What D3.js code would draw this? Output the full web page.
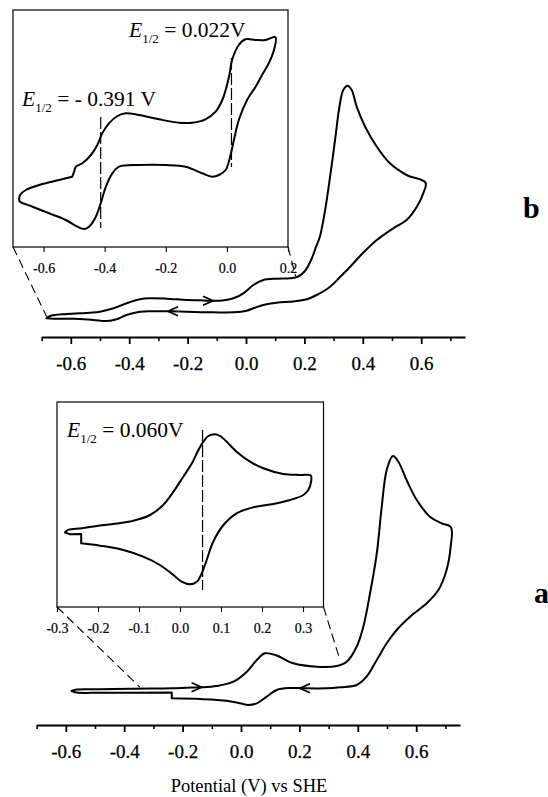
<!DOCTYPE html>
<html>
<head>
<meta charset="utf-8">
<script src="https://cdn.jsdelivr.net/npm/d3@7"></script>
<style>
  html, body { margin: 0; padding: 0; background: #fff; }
  svg { display: block; }
  text { font-family: "Liberation Serif", "Times New Roman", serif; fill: #000; }
</style>
</head>
<body>
<svg id="chart" width="548" height="797"></svg>
<script>
// ---------------- DATA (potential in V vs SHE, current in arbitrary units) ----------------
// Panel b, main CV
const bMainPotential = [-0.683,-0.671,-0.614,-0.534,-0.5,-0.454,-0.409,-0.363,-0.329,-0.272,-0.203,-0.158,-0.123,-0.089,-0.043,-0.009,0.025,0.059,0.105,0.151,0.179,0.202,0.223,0.240,0.253,0.271,0.288,0.305,0.320,0.333,0.348,0.362,0.379,0.408,0.448,0.493,0.550,0.615,
  0.607,0.585,0.550,0.504,0.448,0.397,0.356,0.322,0.288,0.242,0.208,0.162,0.105,0.059,0.025,0.002,-0.043,-0.112,-0.203,-0.260,-0.317,-0.363,-0.409,-0.443,-0.477,-0.523,-0.591,-0.660,-0.683];
const bMainCurrent = [11.7,14,16,17.3,18.3,21.7,26.7,30.7,31.7,31.3,30,29.7,29.3,29.3,31.7,36.7,45,50,51.3,51.7,53.5,59,70,83.3,93.3,120,153.3,190,223.3,240,244.3,240,223.3,203.3,183.3,166.7,155,147.3,
  136.7,123.3,110,101.7,90,76,63,53,43.3,35,30.7,28.5,27.3,25,21.7,19.3,17.7,17.7,18.3,18.7,18.7,18.3,15,10.7,9,10,11.3,11.3,11.7];

// Panel b, inset CV
const bInsetPotential = [-0.680,-0.677,-0.658,-0.614,-0.549,-0.506,-0.500,-0.494,-0.473,-0.445,-0.424,-0.408,-0.386,-0.358,-0.331,-0.288,-0.222,-0.157,-0.113,-0.070,-0.037,-0.015,0.007,0.017,0.039,0.061,0.094,0.126,0.159,
  0.154,0.137,0.115,0.094,0.066,0.039,0.023,0.012,-0.004,-0.026,-0.048,-0.081,-0.135,-0.200,-0.288,-0.353,-0.375,-0.396,-0.413,-0.429,-0.451,-0.467,-0.489,-0.527,-0.582,-0.636,-0.677,-0.680];
const bInsetCurrent = [47,52,57,62,67,70.3,75.3,80.3,83.7,92,102,113.7,123.7,131,133.7,132,127.7,124.3,124.3,127.7,135.3,147,170.3,187,202,207.7,207,207,209.7,
  197,183.7,172,160.3,147,127,107,92,77,72,70.3,73.7,80.3,82,82,80.3,73.7,60.3,43.7,30.3,20.3,18,20.3,27,33.7,40.3,45.3,47];

// Panel a, main CV
const aMainPotential = [-0.580,-0.563,-0.483,-0.369,-0.237,-0.186,-0.140,-0.083,-0.026,0.020,0.054,0.082,0.122,0.179,0.259,0.328,0.362,0.396,0.419,0.442,0.465,0.482,0.499,0.520,0.539,0.567,0.602,0.647,0.687,0.719,
  0.718,0.704,0.676,0.636,0.579,0.533,0.499,0.465,0.430,0.396,0.339,0.293,0.213,0.168,0.122,0.088,0.054,0.025,-0.003,-0.049,-0.140,-0.237,-0.237,-0.369,-0.483,-0.563,-0.580];
const aMainCurrent = [29,30.5,30.7,31.3,31.7,32.3,32.7,34,38.3,48.3,60,66.7,64.5,56.7,53.3,54,58.3,73.3,93.3,126.7,166.7,213.3,250,264,258.3,240,220,203.3,196.7,192.7,
  173.3,150,130,116.7,103.3,90,76.7,60,43.3,35,32.7,31.7,31.7,32,30,23.3,16.7,15,16.7,19.3,21,21.7,27.5,27.2,27.2,27.5,29];

// Panel a, inset CV
const aInsetPotential = [-0.2805,-0.272,-0.240,-0.203,-0.163,-0.114,-0.073,-0.041,-0.016,0.008,0.029,0.045,0.057,0.069,0.085,0.098,0.114,0.138,0.171,0.203,0.252,0.293,0.319,
  0.319,0.313,0.301,0.268,0.228,0.179,0.138,0.106,0.081,0.065,0.053,0.041,0.024,0.004,-0.016,-0.049,-0.090,-0.138,-0.195,-0.241,-0.241,-0.268,-0.2805];
const aInsetCurrent = [74.5,77.3,78.7,81,83,86.3,92,102,115.3,130.3,143.7,157,165.3,171,172.7,171,165.3,155.3,145.3,138.7,133,132,131.5,
  123.7,117,112,107,103,99.7,93.7,82,65.3,47,33.7,25.3,22.7,25.3,32,42,50.3,57,61.3,63.7,73,72.7,74.5];

// Scan-direction arrows (tip potential, tip current, direction +1 = right)
const bArrowPotential = [-0.113, -0.267];
const bArrowCurrent = [29.3, 18.7];
const bArrowDir = [1, -1];
const aArrowPotential = [-0.135, 0.202];
const aArrowCurrent = [32.7, 31.7];
const aArrowDir = [1, -1];

// Half-wave potential markers (dashed lines in insets)
const bHalfWavePotential = [-0.413, 0.015];
const bHalfWaveCurrentTop = [130, 189];
const bHalfWaveCurrentBottom = [19, 80];
const aHalfWavePotential = [0.055];
const aHalfWaveCurrentTop = [177];
const aHalfWaveCurrentBottom = [17];

// Tick values
const mainMajorTicks = [-0.6, -0.4, -0.2, 0.0, 0.2, 0.4, 0.6];
const mainMinorTicks = [-0.7, -0.5, -0.3, -0.1, 0.1, 0.3, 0.5, 0.7];
const bInsetTicks = [-0.6, -0.4, -0.2, 0.0, 0.2];
const aInsetTicks = [-0.3, -0.2, -0.1, 0.0, 0.1, 0.2, 0.3];

// Zoom connectors: inset edge potential -> point on main curve (potential, current)
const bConnectorMainPotential = [-0.6825, 0.170];
const bConnectorMainCurrent = [13.3, 54];
const aConnectorMainPotential = [-0.346, 0.339];
const aConnectorMainCurrent = [32.7, 60];

// Labels
const panelLabels = ["b", "a"];
const halfWaveLabels = ["0.022V", "- 0.391 V", "0.060V"];
const xAxisTitle = "Potential (V) vs SHE";

// ---------------- DRAWING ----------------
const svg = d3.select("#chart");
const fmt = d => d3.format(".1f")(d).replace("\u2212", "-");
const zip = (xs, ys) => xs.map((x, i) => [x, ys[i]]);

// straight: indices i where segment i -> i+1 is a straight step
function drawCurve(g, xs, ys, pot, cur, width, straight = []) {
  const pts = zip(pot, cur);
  const smooth = d3.line().x(d => xs(d[0])).y(d => ys(d[1])).curve(d3.curveCatmullRom.alpha(0.5));
  const lin = d3.line().x(d => xs(d[0])).y(d => ys(d[1]));
  let d = "", start = 0;
  straight.slice().sort((a, b) => a - b).forEach(b => {
    if (b > start) d += smooth(pts.slice(start, b + 1));
    d += lin([pts[b], pts[b + 1]]);
    start = b + 1;
  });
  if (start < pts.length - 1) d += smooth(pts.slice(start));
  g.append("path")
    .attr("d", d)
    .attr("fill", "none").attr("stroke", "#000")
    .attr("stroke-width", width).attr("stroke-linejoin", "round").attr("stroke-linecap", "round");
}

function drawArrows(g, xs, ys, pot, cur, dir) {
  pot.forEach((p, i) => {
    const x = xs(p), y = ys(cur[i]), d = dir[i];
    g.append("path")
      .attr("d", `M${x - 10 * d},${y - 4.5}L${x},${y}L${x - 10 * d},${y + 4.5}`)
      .attr("fill", "none").attr("stroke", "#000").attr("stroke-width", 1.8);
  });
}

function mainAxis(g, xs, yPix) {
  const ax = g.append("g").attr("transform", `translate(0,${yPix})`);
  ax.call(d3.axisBottom(xs).tickValues(mainMinorTicks).tickSize(4).tickFormat("").tickSizeOuter(0));
  ax.call(g2 => g2.select(".domain").attr("stroke-width", 2));
  ax.selectAll(".tick line").attr("stroke-width", 1.6);
  const ax2 = g.append("g").attr("transform", `translate(0,${yPix})`);
  ax2.call(d3.axisBottom(xs).tickValues(mainMajorTicks).tickSize(7).tickPadding(13).tickFormat(fmt).tickSizeOuter(0));
  ax2.select(".domain").remove();
  ax2.selectAll(".tick line").attr("stroke-width", 1.8);
  ax2.selectAll("text").style("font-size", "19px").style("font-family", "Liberation Serif")
    .attr("stroke", "#000").attr("stroke-width", 0.25);
}

function insetFrame(g, xs, ys, ticks) {
  const [x0, x1] = xs.range();
  const [yb, yt] = ys.range();
  g.append("rect").attr("x", x0).attr("y", yt).attr("width", x1 - x0).attr("height", yb - yt)
    .attr("fill", "none").attr("stroke", "#000").attr("stroke-width", 1.2);
  const ax = g.append("g").attr("transform", `translate(0,${yb})`);
  ax.call(d3.axisBottom(xs).tickValues(ticks).tickSize(5).tickPadding(11).tickFormat(fmt).tickSizeOuter(0));
  ax.select(".domain").remove();
  ax.selectAll(".tick line").attr("stroke-width", 1.1);
  ax.selectAll("text").style("font-size", "14px").style("font-family", "Liberation Serif")
    .attr("stroke", "#000").attr("stroke-width", 0.2);
}

function halfWaveLines(g, xs, ys, pot, top, bottom) {
  pot.forEach((p, i) => {
    g.append("line")
      .attr("x1", xs(p)).attr("x2", xs(p))
      .attr("y1", ys(top[i])).attr("y2", ys(bottom[i]))
      .attr("stroke", "#000").attr("stroke-width", 1.2).attr("stroke-dasharray", "12,3");
  });
}

function connectors(g, xi, yi, xm, ym, mPot, mCur) {
  const ends = [xi.domain()[0], xi.domain()[1]];
  ends.forEach((e, i) => {
    g.append("line")
      .attr("x1", xi(e)).attr("y1", yi(0))
      .attr("x2", xm(mPot[i])).attr("y2", ym(mCur[i]))
      .attr("stroke", "#000").attr("stroke-width", 1.1).attr("stroke-dasharray", "9,5");
  });
}

function eLabel(g, x, y, value) {
  const t = g.append("text").attr("x", x).attr("y", y).style("font-size", "21.5px");
  t.append("tspan").attr("font-style", "italic").text("E");
  t.append("tspan").attr("dy", 6).style("font-size", "13px").text("1/2");
  t.append("tspan").attr("dy", -6).text(" = " + value);
}

// ---- Panel b ----
const gB = svg.append("g");
const xB = d3.scaleLinear().domain([-0.7, 0.75]).range([41.6, 465]);
const yB = d3.scaleLinear().domain([0, 260]).range([330, 70]);
const xBi = d3.scaleLinear().domain([-0.7, 0.2]).range([13, 288]);
const yBi = d3.scaleLinear().domain([0, 237]).range([247, 10]);

insetFrame(gB, xBi, yBi, bInsetTicks);
drawCurve(gB, xBi, yBi, bInsetPotential, bInsetCurrent, 2, [5]);
halfWaveLines(gB, xBi, yBi, bHalfWavePotential, bHalfWaveCurrentTop, bHalfWaveCurrentBottom);
eLabel(gB, 129, 37, halfWaveLabels[0]);
eLabel(gB, 22, 106, halfWaveLabels[1]);
connectors(gB, xBi, yBi, xB, yB, bConnectorMainPotential, bConnectorMainCurrent);
drawCurve(gB, xB, yB, bMainPotential, bMainCurrent, 2);
drawArrows(gB, xB, yB, bArrowPotential, bArrowCurrent, bArrowDir);
mainAxis(gB, xB, 337);
gB.append("text").attr("x", 523).attr("y", 218).style("font-size", "30px").style("font-weight", "bold").text(panelLabels[0]);

// ---- Panel a ----
const gA = svg.append("g");
const xA = d3.scaleLinear().domain([-0.7, 0.75]).range([36.6, 460]);
const yA = d3.scaleLinear().domain([0, 280]).range([720, 440]);
const xAi = d3.scaleLinear().domain([-0.3, 0.35]).range([57, 323.5]);
const yAi = d3.scaleLinear().domain([0, 205]).range([607, 402]);

insetFrame(gA, xAi, yAi, aInsetTicks);
drawCurve(gA, xAi, yAi, aInsetPotential, aInsetCurrent, 2, [42, 43]);
halfWaveLines(gA, xAi, yAi, aHalfWavePotential, aHalfWaveCurrentTop, aHalfWaveCurrentBottom);
eLabel(gA, 67, 437, halfWaveLabels[2]);
connectors(gA, xAi, yAi, xA, yA, aConnectorMainPotential, aConnectorMainCurrent);
drawCurve(gA, xA, yA, aMainPotential, aMainCurrent, 2, [51, 52]);
drawArrows(gA, xA, yA, aArrowPotential, aArrowCurrent, aArrowDir);
mainAxis(gA, xA, 725);
gA.append("text").attr("x", 534).attr("y", 603).style("font-size", "30px").style("font-weight", "bold").text(panelLabels[1]);

svg.append("text").attr("x", 249).attr("y", 792).attr("text-anchor", "middle")
  .style("font-size", "18.5px").text(xAxisTitle);
</script>
</body>
</html>
